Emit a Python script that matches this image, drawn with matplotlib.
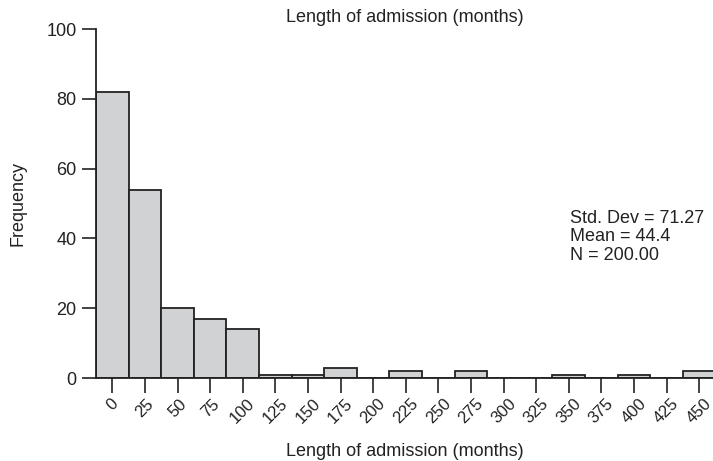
import matplotlib
matplotlib.use("Agg")
import matplotlib.pyplot as plt

bin_centers = [0, 25, 50, 75, 100, 125, 150, 175, 200, 225, 250, 275, 300, 325, 350, 375, 400, 425, 450]
frequencies = [82, 54, 20, 17, 14, 1, 1, 3, 0, 2, 0, 2, 0, 0, 1, 0, 1, 0, 2]
y_ticks = [0, 20, 40, 60, 80, 100]
stats_lines = ["Std. Dev = 71.27", "Mean = 44.4", "N = 200.00"]
title = "Length of admission (months)"
xlabel = "Length of admission (months)"
ylabel = "Frequency"

plt.rcParams['font.family'] = ['Liberation Sans', 'DejaVu Sans']
txt = '#222222'

fig = plt.figure(figsize=(7.13, 4.61), dpi=100)
ax = fig.add_axes([96/713, 1-378/461, 1-96/713, (378-29)/461])

ax.bar(bin_centers, frequencies, width=25, color='#d1d2d4', edgecolor='#222222', linewidth=1.3, align='center', zorder=2)

ax.set_xlim(-12.5, 460.6)
ax.set_ylim(0, 100)
ax.set_yticks(y_ticks)
ax.set_xticks(bin_centers)
ax.set_xticklabels([str(c) for c in bin_centers], rotation=45, ha='center', va='top', fontsize=12, color=txt)
ax.set_yticklabels([str(v) for v in y_ticks], fontsize=13, color=txt)
ax.tick_params(axis='x', length=11, width=1.2, color='#222222', pad=2)
ax.tick_params(axis='y', length=10, width=1.2, color='#222222', pad=4)

for s in ['top', 'right']:
    ax.spines[s].set_visible(False)
for s in ['left', 'bottom']:
    ax.spines[s].set_linewidth(1.3)
    ax.spines[s].set_color('#222222')

ax.set_xlabel(xlabel, fontsize=13, color=txt, labelpad=12)
fig.text(18/713, 1-203/461, ylabel, rotation=90, ha='center', va='center', fontsize=13, color=txt)
fig.text(405/713, 1-18/461, title, ha='center', va='center', fontsize=13, color=txt)

for i, line in enumerate(stats_lines):
    fig.text(570/713, 1-(218 + 18.5*i)/461, line, ha='left', va='center', fontsize=13, color=txt)

fig.savefig("out.png", dpi=100)
